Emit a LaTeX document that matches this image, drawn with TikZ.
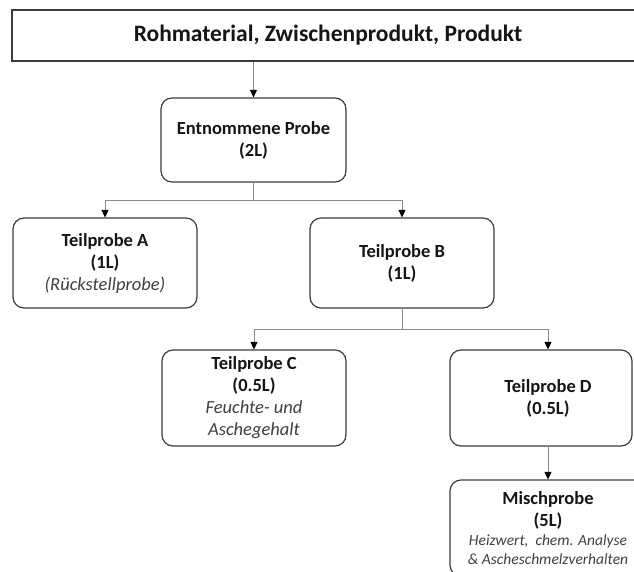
\documentclass[tikz,border=0pt]{standalone}
\usepackage{fontspec}
\setmainfont{Carlito}
\usetikzlibrary{arrows.meta,calc}
\definecolor{boxline}{HTML}{3C3C3C}
\definecolor{connline}{HTML}{8A8A8A}
\definecolor{notecol}{HTML}{404040}
\definecolor{ink}{HTML}{151515}
\newcommand{\notetext}[1]{{\itshape\mdseries\color{notecol}#1}}
\begin{document}
\begin{tikzpicture}[x=1pt,y=-1pt,
  samplebox/.style={draw=boxline, line width=1.2pt, rounded corners=11pt,
    fill=white, align=center, text=ink, inner sep=0pt,
    font=\fontsize{18.5}{22}\selectfont\bfseries},
  headbox/.style={draw=boxline, line width=1.3pt, fill=white, text=ink,
    inner sep=0pt, font=\fontsize{23.5}{27}\selectfont\bfseries},
  plainlink/.style={draw=connline, line width=0.9pt},
  arrowlink/.style={plainlink, -{Triangle[width=7pt,length=7.5pt,color=black]}}
]
\useasboundingbox (0,0) rectangle (634,571);
\clip (0,0) rectangle (634,571);

% header
\node[headbox, minimum width=632pt, minimum height=51pt] (head) at (328,35.5)
  {Rohmaterial, Zwischenprodukt, Produkt};

% sample boxes
\node[samplebox, minimum width=185pt, minimum height=84pt] (E) at (253.5,140)
  {Entnommene Probe\\(2L)};
\node[samplebox, minimum width=184pt, minimum height=90pt] (A) at (105,263)
  {Teilprobe A\\(1L)\\\notetext{(Rückstellprobe)}};
\node[samplebox, minimum width=184pt, minimum height=90pt] (B) at (402,263)
  {Teilprobe B\\(1L)};
\node[samplebox, minimum width=184pt, minimum height=96pt] (C) at (254,398)
  {Teilprobe C\\(0.5L)\\\notetext{Feuchte- und}\\\notetext{Aschegehalt}};
\node[samplebox, minimum width=182pt, minimum height=96pt] (D) at (541,398) {};
\node[align=center, text=ink, inner sep=0pt,
  font=\fontsize{18.5}{22}\selectfont\bfseries] (Dtext) at ([xshift=7pt]D.center)
  {Teilprobe D\\(0.5L)};
\node[samplebox, minimum width=196pt, minimum height=96pt] (M) at (548,528)
  {Mischprobe\\(5L)\\[-3pt]
   {\fontsize{15.5}{18}\selectfont\notetext{Heizwert,\ \ chem. Analyse}}\\[-3pt]
   {\fontsize{15.5}{18}\selectfont\notetext{\& Ascheschmelzverhalten}}};

% connectors
\draw[arrowlink] (E.north |- head.south) -- (E.north);
\draw[plainlink] (E.south) -- ++(0,18) coordinate (splitE);
\draw[arrowlink] (splitE) -| (A.north);
\draw[arrowlink] (splitE) -| (B.north);
\draw[plainlink] (B.south) -- ++(0,21) coordinate (splitB);
\draw[arrowlink] (splitB) -| (C.north);
\draw[arrowlink] (splitB) -| ([xshift=7pt]D.north);
\draw[arrowlink] ([xshift=7pt]D.south) -- (M.north);
\end{tikzpicture}
\end{document}
